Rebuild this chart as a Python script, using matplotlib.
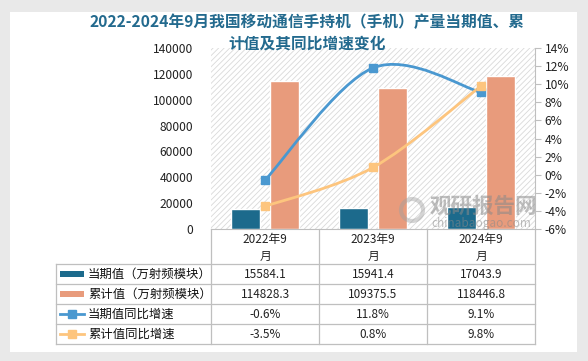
import matplotlib
matplotlib.use("Agg")
import matplotlib.pyplot as plt
from matplotlib.patches import Rectangle, PathPatch, Circle
from matplotlib.path import Path
from matplotlib.lines import Line2D
import numpy as np

plt.rcParams['font.family'] = ['Noto Sans CJK SC', 'DejaVu Sans']
plt.rcParams['hatch.color'] = "#d4d4d4"
plt.rcParams['hatch.linewidth'] = 0.6

categories = ["2022年9\n月", "2023年9\n月", "2024年9\n月"]
current_vals = [15584.1, 15941.4, 17043.9]
cumulative_vals = [114828.3, 109375.5, 118446.8]
current_yoy = [-0.6, 11.8, 9.1]
cumulative_yoy = [-3.5, 0.8, 9.8]
series_names = ["当期值（万射频模块）", "累计值（万射频模块）", "当期值同比增速", "累计值同比增速"]
title_lines = ["2022-2024年9月我国移动通信手持机（手机）产量当期值、累", "计值及其同比增速变化"]

C_CUR = "#1c6a8c"
C_CUM = "#e89b7c"
C_LCUR = "#4a98d0"
C_LCUM = "#fdc57e"
GRID = "#bfbfbf"

W, H = 588, 361
fig = plt.figure(figsize=(W / 100, H / 100), dpi=100)
fig.patch.set_facecolor("#e9e9e9")

# background overlay axes in pixel coords
ov = fig.add_axes([0, 0, 1, 1])
ov.set_xlim(0, W)
ov.set_ylim(H, 0)
ov.axis("off")
ov.add_patch(Rectangle((10, 12), 567, 340, facecolor="white", edgecolor="none", zorder=0))

L, R, T, B = 211, 535, 48, 229
ax = fig.add_axes([L / W, 1 - B / H, (R - L) / W, (B - T) / H])
ax.set_facecolor("white")
ax.add_patch(Rectangle((0, 0), 1, 1, transform=ax.transAxes, facecolor="none",
                       edgecolor="#d9d9d9", hatch="//////", linewidth=0, zorder=0))

x = np.arange(len(categories))
bw = 0.27
ax.bar(x - 0.18, current_vals, width=bw, color=C_CUR, edgecolor="white", linewidth=1, zorder=2)
ax.bar(x + 0.18, cumulative_vals, width=bw, color=C_CUM, edgecolor="white", linewidth=1, zorder=2)
ax.set_xlim(-0.5, 2.5)
ax.set_ylim(0, 140000)
ax.set_yticks(np.arange(0, 140001, 20000))
ax.set_yticklabels([f"{v:d}" for v in range(0, 140001, 20000)])
ax.set_xticks([])
for s in ["top", "right", "left"]:
    ax.spines[s].set_visible(False)
ax.spines["bottom"].set_color(GRID)
ax.tick_params(axis="y", length=0, labelsize=8.7, pad=13, colors="#222222")

ax2 = ax.twinx()
ax2.set_ylim(-6, 14)
ax2.set_yticks(np.arange(-6, 15, 2))
ax2.set_yticklabels([f"{v}%" for v in range(-6, 15, 2)])
for s in ["top", "left", "bottom"]:
    ax2.spines[s].set_visible(False)
ax2.spines["right"].set_color(GRID)
ax2.tick_params(axis="y", length=4, direction="out", colors=GRID, labelcolor="#222222",
                labelsize=8.7, pad=3)


def smooth_path(xs, ys):
    pts = np.column_stack([xs, ys]).astype(float)
    n = len(pts)
    verts = [pts[0]]
    codes = [Path.MOVETO]
    for i in range(n - 1):
        p0 = pts[i - 1] if i > 0 else pts[i]
        p1 = pts[i]
        p2 = pts[i + 1]
        p3 = pts[i + 2] if i + 2 < n else pts[i + 1]
        c1 = p1 + (p2 - p0) / 6
        c2 = p2 - (p3 - p1) / 6
        verts += [c1, c2, p2]
        codes += [Path.CURVE4] * 3
    return Path(verts, codes)


for vals, col in [(current_yoy, C_LCUR), (cumulative_yoy, C_LCUM)]:
    ax2.add_patch(PathPatch(smooth_path(x, vals), facecolor="none", edgecolor=col, lw=2, zorder=3))
    ax2.plot(x, vals, linestyle="none", marker="s", markersize=6, color=col, zorder=4)

# foreground overlay for watermark, title, table
fg = fig.add_axes([0, 0, 1, 1])
fg.set_xlim(0, W)
fg.set_ylim(H, 0)
fg.axis("off")
fg.patch.set_alpha(0)

for ty, tl in zip([22, 44], title_lines):
    fg.text(307, ty, tl, ha="center", va="center", fontsize=11.3, fontweight="bold",
            color="#236a8e", zorder=5)

# watermark
fg.add_patch(Circle((412, 210), 11, facecolor="none", edgecolor="#a0a0a0", lw=3, alpha=0.45, zorder=6))
fg.text(483, 206, "观研报告网", ha="center", va="center", fontsize=15.5, fontweight="bold",
        color="#8a8a8a", alpha=0.55, zorder=6)
fg.text(481, 223, "chinabaogao.com", ha="center", va="center", fontsize=8.5,
        color="#8a8a8a", alpha=0.55, zorder=6)

# table
cols = [211, 319, 427, 535]
rows = [264, 284, 304, 324, 344]
TL = 56
lw = 0.9
for cx in cols:
    fg.add_line(Line2D([cx, cx], [229, 344], color=GRID, lw=lw, zorder=5))
fg.add_line(Line2D([TL, TL], [264, 344], color=GRID, lw=lw, zorder=5))
for ry in rows:
    fg.add_line(Line2D([TL, 535], [ry, ry], color=GRID, lw=lw, zorder=5))

for i, c in enumerate(categories):
    cx = (cols[i] + cols[i + 1]) / 2
    fg.text(cx, 248, c, ha="center", va="center", fontsize=8.5, linespacing=1.45,
            color="#222222", zorder=5)

table_rows = [
    [f"{v:.1f}" for v in current_vals],
    [f"{v:.1f}" for v in cumulative_vals],
    [f"{v:.1f}%" for v in current_yoy],
    [f"{v:.1f}%" for v in cumulative_yoy],
]
for r, vals in enumerate(table_rows):
    cy = (rows[r] + rows[r + 1]) / 2
    for i, v in enumerate(vals):
        cx = (cols[i] + cols[i + 1]) / 2
        fg.text(cx, cy, v, ha="center", va="center", fontsize=8.5, color="#222222", zorder=5)
    fg.text(88, cy, series_names[r], ha="left", va="center", fontsize=8.9, color="#111111", zorder=5)

# legend keys
fg.add_patch(Rectangle((60, 271), 24, 6, facecolor=C_CUR, edgecolor="none", zorder=5))
fg.add_patch(Rectangle((60, 291), 24, 6, facecolor=C_CUM, edgecolor="none", zorder=5))
for cy, col in [(314, C_LCUR), (334, C_LCUM)]:
    fg.add_line(Line2D([60, 84], [cy, cy], color=col, lw=2, zorder=5))
    fg.add_line(Line2D([72], [cy], marker="s", markersize=6, color=col, zorder=6))

fig.savefig("out.png", dpi=100, facecolor=fig.get_facecolor())
